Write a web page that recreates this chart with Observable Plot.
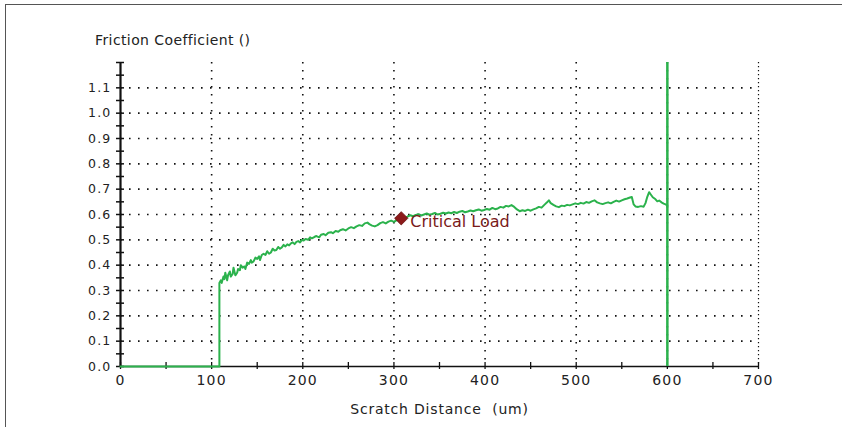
<!DOCTYPE html>
<html><head><meta charset="utf-8">
<script src="https://cdn.jsdelivr.net/npm/d3@7"></script>
<script src="https://cdn.jsdelivr.net/npm/@observablehq/plot@0.6"></script>
<style>
html,body{margin:0;padding:0;background:#fff;}
#wrap{position:relative;width:842px;height:427px;overflow:hidden;}
#frame{position:absolute;left:5px;top:4px;width:845px;height:430px;border-left:1px solid #555;border-top:1px solid #555;}
#title{position:absolute;left:95px;top:32px;font-family:"DejaVu Sans";font-size:14px;color:#222;white-space:pre;letter-spacing:0.4px;}
#wrap svg{position:absolute;left:0;top:0;}
#wrap svg g[aria-label="y-axis tick label"] text, #wrap svg g[aria-label="x-axis tick label"] text{letter-spacing:1.2px;}
#wrap svg g[aria-label="x-axis label"] text{letter-spacing:0.8px;}
</style></head><body>
<div id="wrap"><div id="frame"></div><div id="title">Friction Coefficient ()</div></div>
<script>
const distance = [0,108.5,108.5,110,111,113,114,115,117,118,120,121,123,124,126,128,129,131,132,134,136,137,139,141,143,144,146,148,150,152,153,155,157,159,161,163,165,167,169,171,173,175,177,179,181,183,185,187,189,191,193,195,197,199,201,203,206,208,210,213,215,218,220,223,225,228,231,233,236,239,241,244,247,250,253,256,259,262,265,268,271,273,276,279,282,285,288,291,294,297,300,303,306,309,312,315,318,321,324,327,330,333,336,339,342,345,348,351,354,357,360,363,366,369,372,375,378,381,384,387,390,393,396,399,402,405,408,411,414,417,420,423,426,429,432,435,438,441,444,447,450,453,456,459,462,465,468,470,472,475,478,481,484,487,490,493,496,499,502,505,508,511,514,517,520,523,526,529,532,535,538,541,544,547,550,553,556,559,561,563,565,568,571,574,576,578,580,582,584,587,589,591,594,596,598,600];
const friction = [0,0,0.33,0.34,0.33,0.355,0.345,0.37,0.34,0.36,0.375,0.355,0.365,0.39,0.36,0.37,0.385,0.38,0.4,0.39,0.395,0.385,0.41,0.405,0.42,0.41,0.415,0.43,0.425,0.435,0.42,0.44,0.445,0.44,0.455,0.445,0.45,0.465,0.458,0.46,0.472,0.465,0.47,0.48,0.474,0.482,0.478,0.486,0.49,0.483,0.492,0.495,0.49,0.5,0.497,0.503,0.5,0.51,0.506,0.512,0.515,0.51,0.52,0.523,0.518,0.528,0.53,0.526,0.535,0.532,0.538,0.542,0.537,0.545,0.55,0.546,0.553,0.558,0.555,0.565,0.568,0.562,0.556,0.553,0.558,0.566,0.57,0.565,0.572,0.576,0.571,0.578,0.583,0.588,0.586,0.592,0.597,0.593,0.598,0.601,0.596,0.6,0.604,0.599,0.602,0.606,0.6,0.603,0.607,0.604,0.608,0.605,0.61,0.606,0.611,0.614,0.609,0.612,0.616,0.613,0.617,0.62,0.615,0.618,0.622,0.619,0.626,0.621,0.624,0.63,0.627,0.634,0.632,0.637,0.63,0.62,0.613,0.617,0.614,0.619,0.615,0.62,0.624,0.63,0.627,0.638,0.648,0.656,0.645,0.638,0.632,0.629,0.635,0.633,0.638,0.636,0.64,0.644,0.641,0.646,0.643,0.649,0.646,0.652,0.656,0.648,0.644,0.641,0.645,0.648,0.644,0.65,0.655,0.651,0.656,0.66,0.663,0.667,0.669,0.64,0.632,0.63,0.633,0.631,0.645,0.67,0.688,0.678,0.668,0.66,0.652,0.655,0.647,0.643,0.64,0.636];
const xLabels = [0,100,200,300,400,500,600,700];
const xMinor = [0,50,100,150,200,250,300,350,400,450,500,550,600,650,700];
const yLabels = [0,0.1,0.2,0.3,0.4,0.5,0.6,0.7,0.8,0.9,1.0,1.1];
const yMinor = [0,0.05,0.1,0.15,0.2,0.25,0.3,0.35,0.4,0.45,0.5,0.55,0.6,0.65,0.7,0.75,0.8,0.85,0.9,0.95,1.0,1.05,1.1,1.15,1.2];
const gridX = [100,200,300,400,500,600];
const gridXEdge = [700];
const gridY = [0.1,0.2,0.3,0.4,0.5,0.6,0.7,0.8,0.9,1.0,1.1];
const axisXZero = [0];
const axisYZero = [0];
const endDistance = [600];
const criticalDistance = [308];
const criticalFriction = [0.585];
const criticalLabel = ["Critical Load"];

const green = "#2bb24c";
const data = distance.map((d, i) => ({d, f: friction[i]}));
const critical = criticalDistance.map((d, i) => ({d, f: criticalFriction[i], t: criticalLabel[i]}));

const chart = Plot.plot({
  width: 842, height: 427,
  marginLeft: 120, marginRight: 84, marginTop: 62, marginBottom: 61,
  x: {domain: [0, 700]},
  y: {domain: [0, 1.2]},
  style: {fontFamily: "DejaVu Sans", fontSize: "12.5px", color: "#222", background: "transparent", overflow: "visible"},
  marks: [
    Plot.ruleY(gridY, {stroke: "#111", strokeWidth: 1.6, strokeDasharray: "1.6,7.4"}),
    Plot.ruleX(gridX, {stroke: "#111", strokeWidth: 1.6, strokeDasharray: "1.6,6.4"}),
    Plot.ruleX(gridXEdge, {stroke: "#111", strokeWidth: 1.2, strokeDasharray: "1.2,2.8"}),
    Plot.ruleY(axisYZero, {stroke: "#111", strokeWidth: 1.5}),
    Plot.ruleX(axisXZero, {stroke: "#111", strokeWidth: 2.2}),
    Plot.axisY({ticks: yMinor, tickSize: 8, dx: 4, tickFormat: () => "", label: null, stroke: "#111", strokeWidth: 1.5}),
    Plot.axisY({ticks: yLabels, tickSize: 0, tickPadding: 9, tickFormat: d => d.toFixed(1), label: null}),
    Plot.axisX({ticks: xMinor, tickSize: 7, dy: -4, tickFormat: () => "", label: null, stroke: "#111", strokeWidth: 1.3}),
    Plot.axisX({ticks: xLabels, tickSize: 0, tickPadding: 9, tickFormat: d => String(d), label: "Scratch Distance\u00a0 (um)", labelAnchor: "center", labelArrow: "none", labelOffset: 47, fontSize: 14}),
    Plot.line(data, {x: "d", y: "f", stroke: green, strokeWidth: 2}),
    Plot.ruleX(endDistance, {stroke: green, strokeWidth: 2.5}),
    Plot.dot(critical, {x: "d", y: "f", symbol: "diamond2", r: 6, fill: "#8b1a1a", stroke: "#6a1010", strokeWidth: 0.8}),
    Plot.text(critical, {x: "d", y: "f", text: "t", textAnchor: "start", dx: 9, dy: 4, fill: "#7a1a1a", fontSize: 16, letterSpacing: "1px"})
  ]
});
document.getElementById("wrap").appendChild(chart);
</script>
</body></html>
